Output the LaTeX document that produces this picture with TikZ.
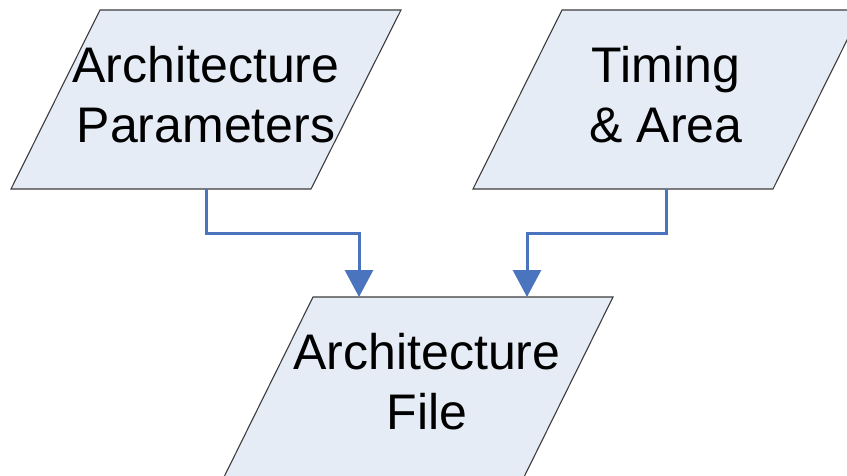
\documentclass[tikz,border=0pt]{standalone}
\usepackage{fontspec}
\setmainfont{Liberation Sans}
\usetikzlibrary{arrows.meta}
\definecolor{datafill}{RGB}{230,236,246}
\definecolor{dataline}{RGB}{60,60,60}
\definecolor{flowblue}{RGB}{74,117,190}
\tikzset{
  databox/.style={fill=datafill, draw=dataline, line width=1.1pt},
  datatext/.style={align=center, inner sep=0pt, font=\fontsize{50}{60}\selectfont},
  flow/.style={draw=flowblue, line width=3pt,
    -{Triangle[width=28pt,length=27pt]}}
}
\begin{document}
\begin{tikzpicture}[x=1pt,y=-1pt]
\useasboundingbox (0,0) rectangle (847,475);
\begin{scope}
\clip (0,0) rectangle (847,475);
% input: architecture parameters
\draw[databox] (100,10) -- (401,10) -- (311,189) -- (11,189) -- cycle;
\node[datatext] (params) at (206,95) {Architecture\\Parameters};
% input: timing and area
\draw[databox] (562,10) -- (862,10) -- (773,189) -- (473,189) -- cycle;
\node[datatext] (timing) at (666,95) {Timing\\\& Area};
% output: architecture file
\draw[databox] (313,297) -- (613,297) -- (524,477) -- (224,477) -- cycle;
\node[datatext] (archfile) at (427,382) {Architecture\\File};
\end{scope}
% connector anchors
\coordinate (paramsout) at (206,189);
\coordinate (timingout) at (666,189);
\coordinate (filein1) at (359,297);
\coordinate (filein2) at (527,297);
\draw[flow] (paramsout) |- (359,233) -- (filein1);
\draw[flow] (timingout) |- (527,233) -- (filein2);
\end{tikzpicture}
\end{document}
